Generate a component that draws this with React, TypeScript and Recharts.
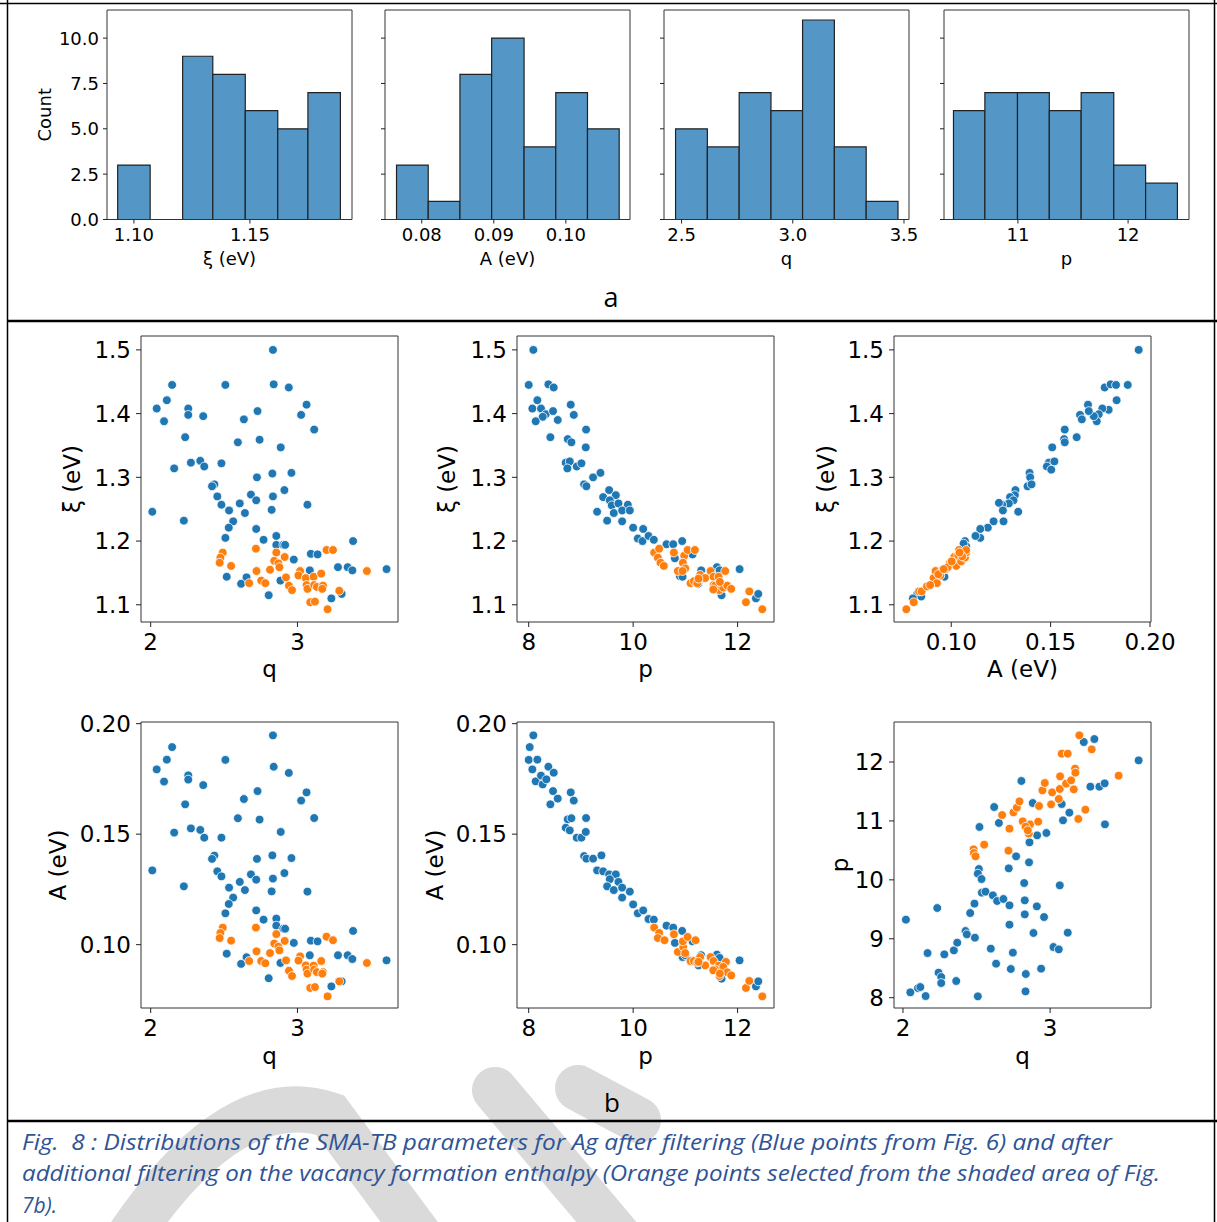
import React from 'react';
import { ScatterChart, Scatter, XAxis, YAxis, ReferenceArea, Label } from 'recharts';

const BLUE = '#1f77b4';
const ORANGE = '#ff7f0e';
const BAR = '#5497c7';
const INK = '#222';
const FONT = '"DejaVu Sans", sans-serif';

// ---- panel a : histograms (bin edges + counts) ----
const xiEdges = [1.093, 1.107, 1.121, 1.134, 1.148, 1.162, 1.175, 1.189];
const xiCounts = [3, 0, 9, 8, 6, 5, 7];
const aEdges = [0.0765, 0.0809, 0.0853, 0.0897, 0.0942, 0.0986, 0.103, 0.1074];
const aCounts = [3, 1, 8, 10, 4, 7, 5];
const qEdges = [2.473, 2.616, 2.759, 2.902, 3.044, 3.187, 3.33, 3.473];
const qCounts = [5, 4, 7, 6, 11, 4, 1];
const pEdges = [10.415, 10.7, 10.996, 11.285, 11.574, 11.87, 12.159, 12.448];
const pCounts = [6, 7, 7, 6, 7, 3, 2];
const countTicks = [0, 2.5, 5, 7.5, 10];

// ---- panel b : scatter points [x, y] ----
// xi vs q
const xiQBlue = [
  [2.833, 1.5], [2.146, 1.445], [2.509, 1.445], [2.838, 1.446], [2.941, 1.441], [2.11, 1.421], [2.041, 1.408],
  [2.256, 1.408], [2.256, 1.398], [2.091, 1.388], [2.358, 1.396], [2.728, 1.404], [3.062, 1.414], [3.025, 1.398],
  [2.635, 1.391], [3.114, 1.375], [2.235, 1.363], [2.594, 1.355], [2.742, 1.359], [2.886, 1.347], [2.274, 1.323],
  [2.338, 1.326], [2.365, 1.317], [2.482, 1.322], [2.16, 1.314], [2.724, 1.3], [2.829, 1.306], [2.959, 1.307],
  [2.434, 1.289], [2.418, 1.286], [2.454, 1.27], [2.683, 1.273], [2.719, 1.264], [2.833, 1.27], [2.911, 1.28],
  [2.482, 1.257], [2.607, 1.259], [3.068, 1.257], [2.534, 1.248], [2.642, 1.244], [2.824, 1.249], [2.011, 1.246],
  [2.226, 1.232], [2.562, 1.231], [2.532, 1.221], [2.509, 1.205], [2.719, 1.219], [2.769, 1.202], [2.856, 1.208],
  [2.856, 1.194], [2.904, 1.194], [2.916, 1.194], [3.379, 1.2], [2.975, 1.171], [3.091, 1.18], [3.137, 1.179],
  [3.084, 1.154], [3.276, 1.159], [3.342, 1.159], [3.374, 1.154], [3.607, 1.156], [2.518, 1.144], [2.653, 1.143],
  [2.616, 1.133], [2.884, 1.138], [2.804, 1.115], [3.231, 1.11], [3.301, 1.117],
];
const xiQOrange = [
  [2.491, 1.182], [2.475, 1.174], [2.47, 1.166], [2.548, 1.161], [2.717, 1.188], [2.721, 1.153], [2.813, 1.155],
  [2.856, 1.182], [2.842, 1.169], [2.87, 1.165], [2.877, 1.159], [2.913, 1.175], [2.671, 1.134], [2.753, 1.138],
  [2.781, 1.134], [2.922, 1.143], [2.942, 1.13], [2.963, 1.123], [3.018, 1.153], [3.007, 1.146], [3.057, 1.142],
  [3.062, 1.131], [3.068, 1.125], [3.11, 1.144], [3.114, 1.131], [3.132, 1.128], [3.162, 1.149], [3.174, 1.13],
  [3.169, 1.125], [3.198, 1.186], [3.242, 1.186], [3.285, 1.122], [3.087, 1.104], [3.119, 1.105], [3.205, 1.093],
  [3.473, 1.153],
];
// xi vs p
const xiPBlue = [
  [8.089, 1.5], [8.0, 1.445], [8.377, 1.446], [8.479, 1.441], [8.166, 1.421], [8.07, 1.408], [8.236, 1.408],
  [8.326, 1.399], [8.268, 1.395], [8.134, 1.388], [8.466, 1.404], [8.556, 1.39], [8.805, 1.414], [8.863, 1.398],
  [9.099, 1.375], [8.415, 1.363], [9.093, 1.347], [8.748, 1.36], [8.818, 1.355], [8.709, 1.323], [8.786, 1.325],
  [8.741, 1.314], [8.92, 1.317], [9.01, 1.322], [9.061, 1.289], [9.105, 1.286], [9.233, 1.3], [9.374, 1.307],
  [9.425, 1.269], [9.54, 1.28], [9.668, 1.272], [9.553, 1.264], [9.591, 1.256], [9.719, 1.259], [9.898, 1.257],
  [9.31, 1.246], [9.629, 1.244], [9.789, 1.248], [9.936, 1.248], [9.502, 1.232], [9.789, 1.231], [10.0, 1.221],
  [10.089, 1.204], [10.192, 1.219], [10.179, 1.2], [10.294, 1.208], [10.396, 1.202], [10.639, 1.195],
  [10.767, 1.195], [10.939, 1.2], [10.799, 1.173], [10.895, 1.145], [10.946, 1.144], [11.137, 1.179],
  [11.303, 1.154], [11.246, 1.133], [11.604, 1.159], [11.655, 1.154], [12.038, 1.156], [11.693, 1.115],
  [12.351, 1.11], [12.396, 1.117],
];
const xiPOrange = [
  [10.403, 1.182], [10.498, 1.188], [10.473, 1.174], [10.524, 1.166], [10.588, 1.161], [10.78, 1.182],
  [10.856, 1.153], [10.978, 1.177], [10.952, 1.166], [10.997, 1.157], [11.042, 1.186], [11.182, 1.186],
  [11.099, 1.134], [11.163, 1.137], [11.227, 1.134], [11.284, 1.147], [11.38, 1.142], [11.482, 1.153],
  [11.54, 1.144], [11.636, 1.144], [11.763, 1.153], [11.54, 1.131], [11.572, 1.13], [11.655, 1.123],
  [11.725, 1.127], [11.802, 1.13], [11.878, 1.125], [11.534, 1.124], [12.16, 1.104], [12.224, 1.121],
  [12.473, 1.093], [11.252, 1.141], [11.661, 1.136], [10.946, 1.153],
];
// xi vs A
const xiABlue = [
  [0.1943, 1.5], [0.1772, 1.441], [0.1802, 1.446], [0.1829, 1.445], [0.1888, 1.445], [0.1832, 1.421],
  [0.1792, 1.406], [0.176, 1.408], [0.1742, 1.399], [0.1732, 1.388], [0.1717, 1.396], [0.1688, 1.414],
  [0.1692, 1.404], [0.1648, 1.398], [0.1657, 1.391], [0.1631, 1.363], [0.1571, 1.375], [0.1568, 1.36],
  [0.1571, 1.355], [0.1508, 1.347], [0.1491, 1.323], [0.1519, 1.325], [0.1481, 1.317], [0.1503, 1.312],
  [0.1394, 1.307], [0.1397, 1.3], [0.1384, 1.286], [0.1404, 1.289], [0.1323, 1.28], [0.132, 1.272],
  [0.1296, 1.269], [0.1313, 1.264], [0.129, 1.259], [0.1256, 1.257], [0.124, 1.26], [0.126, 1.248],
  [0.1263, 1.231], [0.1337, 1.246], [0.1213, 1.231], [0.1184, 1.221], [0.1146, 1.219], [0.1146, 1.205],
  [0.1122, 1.208], [0.1069, 1.2], [0.1075, 1.192], [0.1062, 1.196], [0.0966, 1.144], [0.0829, 1.117],
  [0.0849, 1.113], [0.0807, 1.11],
];
const xiAOrange = [
  [0.0774, 1.093], [0.0811, 1.104], [0.0838, 1.121], [0.0851, 1.121], [0.0878, 1.129], [0.0911, 1.142],
  [0.0921, 1.153], [0.0928, 1.134], [0.0955, 1.154], [0.0972, 1.156], [0.0992, 1.165], [0.1022, 1.174],
  [0.1025, 1.161], [0.1015, 1.175], [0.1039, 1.186], [0.1035, 1.178], [0.105, 1.168], [0.1069, 1.174],
  [0.1075, 1.182], [0.1075, 1.186], [0.1055, 1.176], [0.0945, 1.146], [0.0894, 1.131], [0.0982, 1.159],
  [0.1002, 1.168], [0.1042, 1.182], [0.0935, 1.148], [0.0962, 1.156],
];
// A vs q
const aQBlue = [
  [2.833, 0.1947], [2.146, 0.1894], [2.509, 0.1836], [2.838, 0.1805], [2.941, 0.1777], [2.11, 0.1837],
  [2.041, 0.1793], [2.256, 0.1766], [2.256, 0.1747], [2.091, 0.1738], [2.358, 0.1722], [2.728, 0.1695],
  [3.062, 0.1689], [3.025, 0.1652], [2.635, 0.1659], [3.114, 0.1573], [2.235, 0.1635], [2.594, 0.1572],
  [2.742, 0.1566], [2.886, 0.151], [2.274, 0.1526], [2.338, 0.1519], [2.365, 0.1484], [2.482, 0.1484],
  [2.16, 0.1507], [2.724, 0.1388], [2.829, 0.1404], [2.959, 0.1392], [2.434, 0.1403], [2.418, 0.1388],
  [2.454, 0.1332], [2.683, 0.1318], [2.719, 0.1294], [2.833, 0.1299], [2.911, 0.1324], [2.482, 0.1309],
  [2.607, 0.1284], [3.068, 0.124], [2.534, 0.1258], [2.642, 0.1247], [2.824, 0.1241], [2.011, 0.1336],
  [2.226, 0.1264], [2.562, 0.1213], [2.532, 0.1184], [2.509, 0.1142], [2.719, 0.1155], [2.769, 0.1113],
  [2.856, 0.1118], [2.856, 0.1086], [2.904, 0.1072], [2.916, 0.1072], [3.379, 0.1062], [2.975, 0.1008],
  [3.091, 0.1018], [3.137, 0.1015], [3.084, 0.0952], [3.276, 0.0952], [3.342, 0.0952], [3.374, 0.0935],
  [3.607, 0.0929], [2.518, 0.0959], [2.653, 0.0943], [2.616, 0.0913], [2.884, 0.0917], [2.804, 0.0848],
  [3.231, 0.0811], [3.301, 0.0834],
];
const aQOrange = [
  [2.491, 0.1077], [2.475, 0.1053], [2.47, 0.103], [2.548, 0.1018], [2.717, 0.1077], [2.721, 0.097],
  [2.813, 0.0962], [2.856, 0.1048], [2.842, 0.1005], [2.87, 0.0991], [2.877, 0.0974], [2.913, 0.1017],
  [2.671, 0.0926], [2.753, 0.0926], [2.781, 0.0916], [2.922, 0.0929], [2.942, 0.0882], [2.963, 0.0858],
  [3.018, 0.0947], [3.007, 0.0928], [3.057, 0.0906], [3.062, 0.0887], [3.068, 0.0869], [3.11, 0.0905],
  [3.114, 0.0887], [3.132, 0.0876], [3.162, 0.0926], [3.174, 0.0876], [3.169, 0.0869], [3.198, 0.1036],
  [3.242, 0.102], [3.285, 0.0834], [3.087, 0.0804], [3.119, 0.0808], [3.205, 0.0766], [3.473, 0.0917],
];
// A vs p
const aPBlue = [
  [8.089, 0.1947], [8.019, 0.1894], [8.0, 0.1836], [8.166, 0.1837], [8.07, 0.1793], [8.134, 0.1739],
  [8.236, 0.1765], [8.268, 0.1725], [8.338, 0.1748], [8.377, 0.1805], [8.479, 0.1778], [8.466, 0.1695],
  [8.556, 0.1661], [8.415, 0.1635], [8.805, 0.1689], [8.863, 0.1652], [9.099, 0.1573], [8.748, 0.1567],
  [8.818, 0.1572], [8.709, 0.1529], [8.786, 0.1517], [8.92, 0.1484], [9.01, 0.1484], [9.093, 0.151],
  [9.061, 0.1401], [9.105, 0.1389], [9.233, 0.1389], [9.393, 0.1404], [9.31, 0.1336], [9.425, 0.1332],
  [9.54, 0.1318], [9.668, 0.1318], [9.553, 0.1296], [9.719, 0.1284], [9.502, 0.1264], [9.629, 0.1247],
  [9.789, 0.1258], [9.936, 0.124], [9.789, 0.1213], [10.0, 0.1182], [10.089, 0.1142], [10.192, 0.1155],
  [10.294, 0.1116], [10.396, 0.1113], [10.639, 0.1086], [10.767, 0.1077], [10.939, 0.1062], [10.799, 0.1008],
  [10.946, 0.0944], [10.997, 0.0952], [11.137, 0.1015], [11.303, 0.0952], [11.252, 0.0906], [11.604, 0.0955],
  [11.655, 0.094], [12.038, 0.0929], [11.693, 0.0846], [12.351, 0.0811], [12.396, 0.0834],
];
const aPOrange = [
  [10.403, 0.1077], [10.498, 0.1053], [10.473, 0.103], [10.601, 0.102], [10.78, 0.1047], [10.856, 0.0967],
  [10.959, 0.0989], [10.952, 0.1015], [10.997, 0.0962], [11.042, 0.1035], [11.195, 0.102], [11.099, 0.0926],
  [11.163, 0.0926], [11.227, 0.0919], [11.284, 0.0944], [11.38, 0.0906], [11.482, 0.0944], [11.54, 0.0926],
  [11.636, 0.0905], [11.776, 0.0922], [11.54, 0.0887], [11.572, 0.0888], [11.655, 0.0858], [11.725, 0.0899],
  [11.802, 0.0875], [11.878, 0.0861], [11.534, 0.0884], [12.16, 0.0804], [12.224, 0.0836], [12.473, 0.0766],
  [11.252, 0.0922], [11.661, 0.0869],
];
// p vs q
const pQBlue = [
  [2.02, 9.324], [2.05, 8.091], [2.102, 8.164], [2.118, 8.181], [2.154, 8.028], [2.167, 8.758], [2.233, 9.522],
  [2.242, 8.424], [2.26, 8.351], [2.26, 8.249], [2.281, 8.735], [2.346, 8.803], [2.369, 8.934], [2.362, 8.283],
  [2.425, 9.132], [2.434, 9.075], [2.457, 9.437], [2.486, 9.596], [2.489, 9.018], [2.509, 8.023], [2.516, 10.184],
  [2.509, 10.105], [2.534, 10.014], [2.536, 9.782], [2.561, 9.799], [2.52, 10.897], [2.611, 9.737], [2.62, 11.236],
  [2.64, 9.641], [2.652, 10.965], [2.597, 8.832], [2.633, 8.577], [2.683, 9.675], [2.724, 9.567], [2.724, 9.239],
  [2.719, 10.195], [2.733, 8.487], [2.747, 8.764], [2.769, 10.399], [2.805, 11.678], [2.824, 9.946], [2.828, 9.652],
  [2.828, 9.414], [2.835, 8.402], [2.833, 8.107], [2.857, 10.297], [2.86, 10.637], [2.882, 11.304], [2.887, 9.098],
  [2.91, 9.55], [2.912, 10.755], [2.939, 8.492], [2.959, 9.369], [2.975, 10.795], [3.023, 8.86], [3.059, 8.82],
  [3.066, 9.907], [3.079, 11.287], [3.088, 11.01], [3.12, 9.103], [3.131, 11.14], [3.229, 12.339], [3.274, 11.581],
  [3.301, 12.39], [3.335, 11.581], [3.371, 11.638], [3.373, 10.942], [3.602, 12.028],
];
const pQOrange = [
  [2.48, 10.518], [2.482, 10.455], [2.493, 10.399], [2.552, 10.597], [2.674, 11.1], [2.724, 10.868], [2.717, 10.495],
  [2.751, 11.146], [2.774, 11.225], [2.792, 11.332], [2.814, 10.993], [2.855, 10.784], [2.864, 10.942],
  [2.919, 10.987], [2.925, 11.253], [2.948, 11.519], [2.964, 11.644], [3.007, 11.281], [3.014, 11.485],
  [3.059, 11.372], [3.068, 11.757], [3.066, 11.542], [3.079, 12.141], [3.12, 12.141], [3.109, 11.632],
  [3.143, 11.689], [3.161, 11.536], [3.17, 11.887], [3.172, 11.819], [3.192, 11.033], [3.199, 12.453],
  [3.24, 11.191], [3.283, 12.215], [3.466, 11.768], [2.833, 10.902], [2.848, 10.84],
];

const toPoints = (list: number[][]) => list.map(([x, y]) => ({ x, y }));

const dot = (color: string) => (props: any) =>
  <circle cx={props.cx} cy={props.cy} r={4.4} fill={color} stroke="#fff" strokeWidth={0.8} />;

const HIST_TOP = 9.5;
const HIST_H = 209.5;
const HIST_W = 245;
const COUNT_MAX = 11.55;

function Hist({ left, edges, counts, domain, ticks, fmt, xLabel, showY }: any) {
  const YW = 100, MT = 5, MR = 25, XH = 60;
  const tickStyle = { fontSize: 18, fill: '#000', fontFamily: FONT };
  return (
    <div style={{ position: 'absolute', left: left - YW, top: HIST_TOP - MT }}>
      <ScatterChart width={YW + HIST_W + MR} height={MT + HIST_H + XH} margin={{ top: MT, right: MR, bottom: 0, left: 0 }}>
        <XAxis type="number" dataKey="x" domain={domain} ticks={ticks} allowDataOverflow interval={0}
          height={XH} tickFormatter={fmt} tick={tickStyle} tickSize={4} tickMargin={5}
          tickLine={{ stroke: INK }} axisLine={false}>
          <Label value={xLabel} position="insideBottom" offset={15} style={{ fontSize: 18, fill: '#000', fontFamily: FONT }} />
        </XAxis>
        <YAxis type="number" dataKey="y" domain={[0, COUNT_MAX]} ticks={countTicks} allowDataOverflow interval={0}
          width={YW} tickFormatter={showY ? (v: number) => v.toFixed(1) : () => ''} tick={tickStyle}
          tickSize={4} tickMargin={4} tickLine={{ stroke: INK }} axisLine={false}>
          {showY && (
            <Label value="Count" angle={-90} position="insideLeft" offset={38}
              style={{ textAnchor: 'middle', fontSize: 18, fill: '#000', fontFamily: FONT }} />
          )}
        </YAxis>
        {counts.map((c: number, i: number) => c > 0 && (
          <ReferenceArea key={i} x1={edges[i]} x2={edges[i + 1]} y1={0} y2={c} fill={BAR} fillOpacity={1}
            stroke={INK} strokeWidth={1.2} ifOverflow="visible" />
        ))}
        <ReferenceArea x1={domain[0]} x2={domain[1]} y1={0} y2={COUNT_MAX} fill="none" fillOpacity={0}
          stroke="#333" strokeWidth={1} ifOverflow="visible" />
      </ScatterChart>
    </div>
  );
}

function Panel({ left, top, xDomain, yDomain, xTicks, yTicks, xFmt, yFmt, xLabel, yLabel, yOff, xOff, blue, orange }: any) {
  const W = 257, H = 286, YW = 100, MT = 10, MR = 35, XH = 70;
  const tickStyle = { fontSize: 23, fill: '#000', fontFamily: FONT };
  return (
    <div style={{ position: 'absolute', left: left - YW, top: top - MT }}>
      <ScatterChart width={YW + W + MR} height={MT + H + XH} margin={{ top: MT, right: MR, bottom: 0, left: 0 }}>
        <XAxis type="number" dataKey="x" domain={xDomain} ticks={xTicks} allowDataOverflow interval={0}
          height={XH} tickFormatter={xFmt} tick={tickStyle} tickSize={5} tickMargin={7}
          tickLine={{ stroke: INK }} axisLine={false}>
          <Label value={xLabel} position="insideBottom" offset={xOff} style={{ fontSize: 23, fill: '#000', fontFamily: FONT }} />
        </XAxis>
        <YAxis type="number" dataKey="y" domain={yDomain} ticks={yTicks} allowDataOverflow interval={0}
          width={YW} tickFormatter={yFmt} tick={tickStyle} tickSize={5} tickMargin={5}
          tickLine={{ stroke: INK }} axisLine={false}>
          <Label value={yLabel} angle={-90} position="insideLeft" offset={yOff}
            style={{ textAnchor: 'middle', fontSize: 23, fill: '#000', fontFamily: FONT }} />
        </YAxis>
        <ReferenceArea x1={xDomain[0]} x2={xDomain[1]} y1={yDomain[0]} y2={yDomain[1]} fill="none" fillOpacity={0}
          stroke="#333" strokeWidth={1} ifOverflow="visible" />
        <Scatter data={toPoints(blue)} fill={BLUE} shape={dot(BLUE)} isAnimationActive={false} />
        <Scatter data={toPoints(orange)} fill={ORANGE} shape={dot(ORANGE)} isAnimationActive={false} />
      </ScatterChart>
    </div>
  );
}

const f1 = (v: number) => v.toFixed(1);
const f2 = (v: number) => v.toFixed(2);
const f0 = (v: number) => String(v);

const XI_DOMAIN = [1.073, 1.5218];
const A_DOMAIN = [0.07134, 0.20075];
const xiTicks = [1.1, 1.2, 1.3, 1.4, 1.5];
const aTicks = [0.1, 0.15, 0.2];

export default function App() {
  const caption = { fontFamily: '"Open Sans", sans-serif', fontStyle: 'italic', fontSize: 21, fill: '#2F5496', whiteSpace: 'pre' as const };
  return (
    <div style={{ position: 'absolute', left: 0, top: 0, width: 1217, height: 1222, background: '#fff', overflow: 'hidden' }}>
      <svg width={1217} height={1222} style={{ position: 'absolute', left: 0, top: 0 }}>
        {/* watermark */}
        <g stroke="#dadada" strokeWidth={46} fill="none" strokeLinecap="round">
          <path d="M 120 1250 C 185 1150, 255 1090, 330 1115 L 430 1250" />
          <path d="M 495 1090 L 630 1250" />
          <path d="M 578 1088 L 638 1120" />
        </g>
        {/* frame */}
        <g stroke="#000">
          <line x1={0} y1={3.5} x2={1217} y2={3.5} strokeWidth={1.5} />
          <line x1={7.5} y1={0} x2={7.5} y2={1222} strokeWidth={1.5} />
          <line x1={1214.5} y1={0} x2={1214.5} y2={1222} strokeWidth={1.5} />
          <line x1={7} y1={321} x2={1217} y2={321} strokeWidth={2.5} />
          <line x1={7} y1={1121} x2={1217} y2={1121} strokeWidth={2.5} />
        </g>
        <text x={611} y={307} textAnchor="middle" fontFamily='"Open Sans", sans-serif' fontSize={27} fill="#000">a</text>
        <text x={612} y={1112} textAnchor="middle" fontFamily='"Open Sans", sans-serif' fontSize={26} fill="#000">b</text>
        <text x={22} y={1150} textLength={1090} lengthAdjust="spacingAndGlyphs" style={caption}>
          Fig.  8 : Distributions of the SMA-TB parameters for Ag after filtering (Blue points from Fig. 6) and after
        </text>
        <text x={22} y={1181} textLength={1138} lengthAdjust="spacingAndGlyphs" style={caption}>
          additional filtering on the vacancy formation enthalpy (Orange points selected from the shaded area of Fig.
        </text>
        <text x={22} y={1213} style={caption}>7b).</text>
      </svg>

      <Hist left={107} edges={xiEdges} counts={xiCounts} domain={[1.0884, 1.194]} ticks={[1.1, 1.15]} fmt={f2} xLabel="ξ (eV)" showY />
      <Hist left={385} edges={aEdges} counts={aCounts} domain={[0.0749, 0.1089]} ticks={[0.08, 0.09, 0.1]} fmt={f2} xLabel="A (eV)" />
      <Hist left={664} edges={qEdges} counts={qCounts} domain={[2.421, 3.5225]} ticks={[2.5, 3.0, 3.5]} fmt={f1} xLabel="q" />
      <Hist left={944} edges={pEdges} counts={pCounts} domain={[10.329, 12.553]} ticks={[11, 12]} fmt={f0} xLabel="p" />

      <Panel left={141} top={336} xDomain={[1.934, 3.685]} yDomain={XI_DOMAIN} xTicks={[2, 3]} yTicks={xiTicks}
        xFmt={f0} yFmt={f1} xLabel="q" yLabel="ξ (eV)" yOff={31} xOff={15} blue={xiQBlue} orange={xiQOrange} />
      <Panel left={517} top={336} xDomain={[7.776, 12.697]} yDomain={XI_DOMAIN} xTicks={[8, 10, 12]} yTicks={xiTicks}
        xFmt={f0} yFmt={f1} xLabel="p" yLabel="ξ (eV)" yOff={30} xOff={15} blue={xiPBlue} orange={xiPOrange} />
      <Panel left={894} top={336} xDomain={[0.0712, 0.2005]} yDomain={XI_DOMAIN} xTicks={aTicks} yTicks={xiTicks}
        xFmt={f2} yFmt={f1} xLabel="A (eV)" yLabel="ξ (eV)" yOff={32} xOff={15} blue={xiABlue} orange={xiAOrange} />

      <Panel left={141} top={722} xDomain={[1.934, 3.685]} yDomain={A_DOMAIN} xTicks={[2, 3]} yTicks={aTicks}
        xFmt={f0} yFmt={f2} xLabel="q" yLabel="A (eV)" yOff={17} xOff={14} blue={aQBlue} orange={aQOrange} />
      <Panel left={517} top={722} xDomain={[7.776, 12.697]} yDomain={A_DOMAIN} xTicks={[8, 10, 12]} yTicks={aTicks}
        xFmt={f0} yFmt={f2} xLabel="p" yLabel="A (eV)" yOff={18} xOff={14} blue={aPBlue} orange={aPOrange} />
      <Panel left={894} top={722} xDomain={[1.939, 3.686]} yDomain={[7.825, 12.679]} xTicks={[2, 3]} yTicks={[8, 9, 10, 11, 12]}
        xFmt={f0} yFmt={f0} xLabel="q" yLabel="p" yOff={46} xOff={14} blue={pQBlue} orange={pQOrange} />
    </div>
  );
}
